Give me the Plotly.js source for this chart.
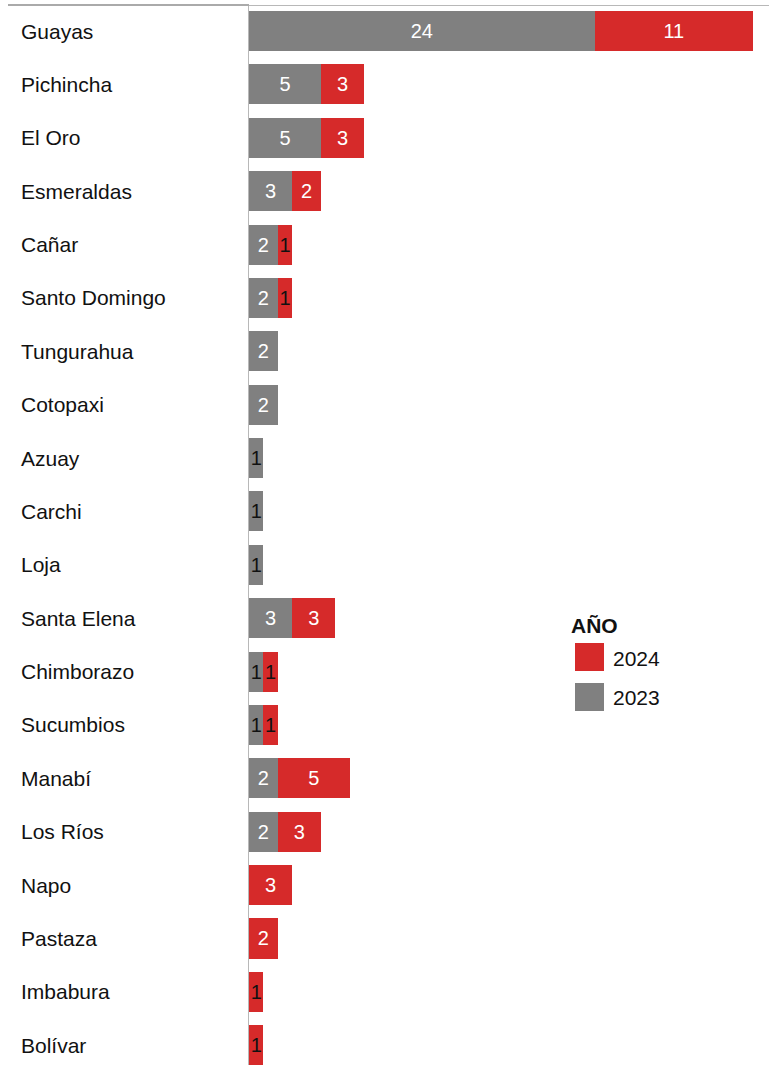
<!DOCTYPE html>
<html>
<head>
<meta charset="utf-8">
<script src="https://cdn.plot.ly/plotly-3.0.1.min.js"></script>
<style>html,body{margin:0;padding:0;background:#fff;overflow:hidden}</style>
</head>
<body>
<div id="chart" style="width:769px;height:1065px"></div>
<script>
const provinces = ["Guayas","Pichincha","El Oro","Esmeraldas","Cañar","Santo Domingo","Tungurahua","Cotopaxi","Azuay","Carchi","Loja","Santa Elena","Chimborazo","Sucumbios","Manabí","Los Ríos","Napo","Pastaza","Imbabura","Bolívar"];
const values2023 = [24,5,5,3,2,2,2,2,1,1,1,3,1,1,2,2,0,0,0,0];
const values2024 = [11,3,3,2,1,1,0,0,0,0,0,3,1,1,5,3,3,2,1,1];
const seriesNames = ["2023","2024"];
const legendTitle = "AÑO";

const W = 769, H = 1065;
const M = {l:249, r:0, t:5, b:0};
const PW = W - M.l - M.r, PH = H - M.t - M.b;
const px2x = p => (p - M.l) / PW;
const px2y = p => 1 - (p - M.t) / PH;

const GRAY = "#808080", RED = "#d62a2a";
const FONT = "Liberation Sans, Arial, sans-serif";

function txt(v){ return v > 0 ? String(v) : ""; }
function txtColor(v){ return v === 1 ? "#111111" : "#ffffff"; }

const traces = [
  {type:"bar", orientation:"h", name:seriesNames[0], y:provinces, x:values2023,
   marker:{color:GRAY}, width:0.75,
   text:values2023.map(txt), textposition:"inside", insidetextanchor:"middle",
   constraintext:"none", textangle:0,
   textfont:{family:FONT, size:20, color:values2023.map(txtColor)},
   hoverinfo:"none", showlegend:false},
  {type:"bar", orientation:"h", name:seriesNames[1], y:provinces, x:values2024,
   marker:{color:RED}, width:0.75,
   text:values2024.map(txt), textposition:"inside", insidetextanchor:"middle",
   constraintext:"none", textangle:0,
   textfont:{family:FONT, size:20, color:values2024.map(txtColor)},
   hoverinfo:"none", showlegend:false}
];

const annotations = provinces.map(p => ({
  xref:"paper", yref:"y", x:px2x(19), y:p, xanchor:"left", yanchor:"middle",
  text:p, showarrow:false, font:{family:FONT, size:21, color:"#111111"}
}));
annotations.push({xref:"paper", yref:"paper", x:px2x(569), y:px2y(625), xanchor:"left", yanchor:"middle",
  text:"<b>"+legendTitle+"</b>", showarrow:false, font:{family:FONT, size:21, color:"#111111"}});
annotations.push({xref:"paper", yref:"paper", x:px2x(611), y:px2y(658), xanchor:"left", yanchor:"middle",
  text:seriesNames[1], showarrow:false, font:{family:FONT, size:21, color:"#111111"}});
annotations.push({xref:"paper", yref:"paper", x:px2x(611), y:px2y(697), xanchor:"left", yanchor:"middle",
  text:seriesNames[0], showarrow:false, font:{family:FONT, size:21, color:"#111111"}});

const shapes = [
  {type:"line", xref:"paper", yref:"paper", x0:px2x(8), x1:0, y0:px2y(5), y1:px2y(5),
   line:{color:"#aaaaaa", width:2}},
  {type:"line", xref:"paper", yref:"paper", x0:0, x1:1, y0:px2y(5.5), y1:px2y(5.5),
   line:{color:"#b8b8b8", width:1}},
  {type:"rect", xref:"paper", yref:"paper", x0:px2x(575), x1:px2x(604), y0:px2y(643), y1:px2y(671),
   fillcolor:RED, line:{width:0}},
  {type:"rect", xref:"paper", yref:"paper", x0:px2x(575), x1:px2x(604), y0:px2y(683), y1:px2y(711),
   fillcolor:GRAY, line:{width:0}}
];

const layout = {
  width:W, height:H, margin:M, paper_bgcolor:"#fff", plot_bgcolor:"#fff",
  barmode:"stack", bargap:0.25, showlegend:false,
  font:{family:FONT},
  xaxis:{range:[0, PW/14.4], visible:false, fixedrange:true},
  yaxis:{type:"category", range:[19.37, -0.487], showticklabels:false, ticks:"",
         showgrid:false, zeroline:false, showline:true, linecolor:"#b8b8b8", linewidth:1, fixedrange:true},
  annotations:annotations, shapes:shapes
};

Plotly.newPlot("chart", traces, layout, {staticPlot:true, displayModeBar:false});
</script>
</body>
</html>
